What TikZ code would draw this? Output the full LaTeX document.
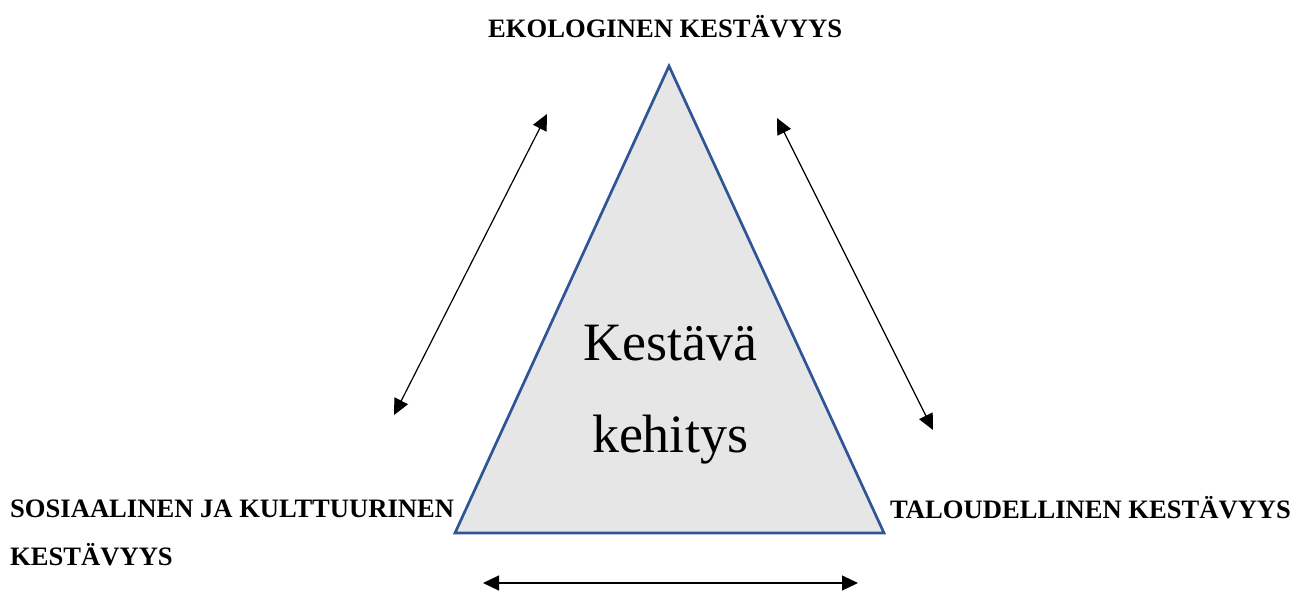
\documentclass[tikz,border=0pt]{standalone}
\usepackage{fontspec}
\setmainfont{Liberation Serif}
\usetikzlibrary{arrows.meta}
\definecolor{triblue}{HTML}{2F5597}
\definecolor{trifill}{HTML}{E6E6E6}
\tikzset{
  label text/.style={font=\fontsize{26.6}{32}\selectfont\bfseries, anchor=base west, inner sep=0pt},
  big text/.style={font=\fontsize{54}{60}\selectfont, anchor=base, inner sep=0pt},
  biarrow/.style={line width=1.2pt, {Triangle[length=16pt,width=15pt]}-{Triangle[length=16pt,width=15pt]}},
  tri/.style={draw=triblue, fill=trifill, line width=2.7pt, line join=miter}
}
\begin{document}
\begin{tikzpicture}[x=1pt,y=-1pt]
\useasboundingbox (0,0) rectangle (1293,592);
\coordinate (top) at (669,66);
\coordinate (bl) at (455,533);
\coordinate (br) at (884,533);
\draw[tri] (top) -- (bl) -- (br) -- cycle;
\node[big text] (k1) at (670,360) {Kestävä};
\node[big text] (k2) at (670,452) {kehitys};
\node[label text] (eko) at (488,37) {EKOLOGINEN KESTÄVYYS};
\node[label text] (sos1) at (10,517) {SOSIAALINEN JA KULTTUURINEN};
\node[label text] (sos2) at (10,565) {KESTÄVYYS};
\node[label text] (tal) at (890,518) {TALOUDELLINEN KESTÄVYYS};
\coordinate (la) at (394,415);
\coordinate (lb) at (547,114);
\coordinate (ra) at (777,118);
\coordinate (rb) at (933,430);
\coordinate (ba) at (483,583);
\coordinate (bb) at (858,583);
\draw[biarrow] (la) -- (lb);
\draw[biarrow] (ra) -- (rb);
\draw[biarrow] (ba) -- (bb);
\end{tikzpicture}
\end{document}
